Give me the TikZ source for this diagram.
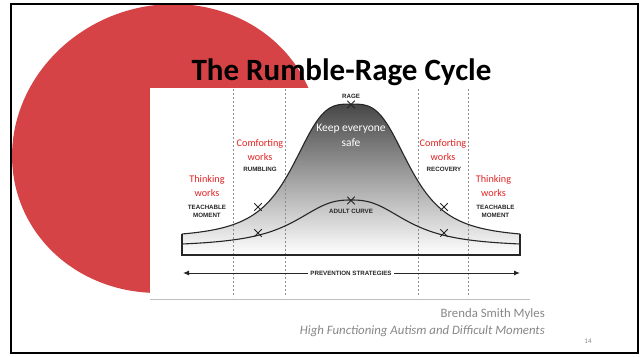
\documentclass[tikz,border=0pt]{standalone}
\usepackage{fontspec}
\setmainfont{Carlito}
\newfontfamily\arialfont{Liberation Sans}
\usetikzlibrary{shapes.misc,arrows.meta}
\definecolor{slidered}{RGB}{214,67,70}
\definecolor{labelred}{RGB}{226,36,36}
\definecolor{footgray}{RGB}{135,135,135}
\begin{document}
\begin{tikzpicture}[x=1pt,y=-1pt,
  redlabel/.style={text=labelred, font=\fontsize{10.2}{14}\selectfont, align=center, inner sep=0},
  caplabel/.style={font=\arialfont\bfseries\fontsize{6.2}{8}\selectfont, text=black!85, inner sep=0.6pt, align=center},
  xmark/.style={draw=black!85, cross out, line width=1pt, minimum size=6.5pt, inner sep=0},
  vdash/.style={draw=black!45, dash pattern=on 2pt off 2pt, line width=0.6pt},
  curveline/.style={draw=black!85, line width=1.1pt},
  foot/.style={text=footgray, anchor=east, inner sep=0}]
\useasboundingbox (0,0) rectangle (642,356);
\fill[white] (0,0) rectangle (642,356);
% red decorative shape (tilted ellipse)
\fill[slidered] plot[domain=0:360, samples=120, smooth cycle]
  ({165.7+145.7*cos(\x)+48.9*sin(\x)}, {148.5-53.0*cos(\x)+134.4*sin(\x)});
% picture panel
\fill[white] (150,88) rectangle (530,298);
\draw[black!25, line width=0.8pt] (150,299) -- (530,299);
% gradient under the rage curve
\shade[top color=black!72, bottom color=white]
  plot[domain=182:520,samples=120] (\x,{234-134.5*(1/(1+((abs(\x-351)+0.01)/61.3)^3.3)-0.034)})
  -- (520,255) -- (182,255) -- cycle;
% phase separators
\foreach \px in {233,285,418,468} \draw[vdash] (\px,89) -- (\px,297);
% curves and base
\draw[curveline] (182,234) -- (182,255) -- (520,255) -- (520,234);
\draw[curveline] plot[domain=182:520,samples=120] (\x,{234-134.5*(1/(1+((abs(\x-351)+0.01)/61.3)^3.3)-0.034)});
\draw[curveline] plot[domain=182:520,samples=120] (\x,{244-47.1*(1/(1+((abs(\x-351)+0.01)/61)^2.6)-0.066)});
% x marks
\node[xmark] (x1) at (258,207) {};
\node[xmark] (x2) at (351,104.5) {};
\node[xmark] (x3) at (444,207) {};
\node[xmark] (x4) at (258,233) {};
\node[xmark] (x5) at (351,200.5) {};
\node[xmark] (x6) at (444,233) {};
% small labels
\node[caplabel] (rage) at (351,96.5) {RAGE};
\node[caplabel] (rumb) at (260,169.5) {RUMBLING};
\node[caplabel] (reco) at (444,169.5) {RECOVERY};
\node[caplabel] (tml) at (207,211) {TEACHABLE\\MOMENT};
\node[caplabel] (tmr) at (495.5,211.5) {TEACHABLE\\MOMENT};
\node[caplabel] (adult) at (351,211.5) {ADULT CURVE};
% red labels
\node[redlabel] (cl) at (260,150.5) {Comforting\\works};
\node[redlabel] (cr) at (443,150.5) {Comforting\\works};
\node[redlabel] (tl) at (207,186) {Thinking\\works};
\node[redlabel] (tr) at (493.5,186) {Thinking\\works};
\node[text=white, font=\fontsize{11.5}{15}\selectfont, align=center, inner sep=0] (keep) at (351,135.5) {Keep everyone\\safe};
% prevention arrow
\coordinate (pl) at (183,273);
\coordinate (pr) at (520,273);
\draw[black!85, line width=1pt, {Latex[length=6pt,width=5pt]}-{Latex[length=6pt,width=5pt]}] (pl) -- (pr);
\node[caplabel, fill=white, inner xsep=2pt] (prev) at (351,273) {PREVENTION STRATEGIES};
% title
\node[font=\bfseries\fontsize{31}{36}\selectfont, anchor=base, inner sep=0] (title) at (341.5,80) {The Rumble-Rage Cycle};
% footer
\node[foot, font=\fontsize{12.8}{15}\selectfont] (author) at (545,314) {Brenda Smith Myles};
\node[foot, font=\itshape\fontsize{12.8}{15}\selectfont] (book) at (545,331) {High Functioning Autism and Difficult Moments};
\node[text=footgray, font=\fontsize{7}{8}\selectfont, inner sep=0] (page) at (588,341) {14};
% slide frame
\draw[black, line width=1.8pt] (11,4) rectangle (638,353);
\end{tikzpicture}
\end{document}
